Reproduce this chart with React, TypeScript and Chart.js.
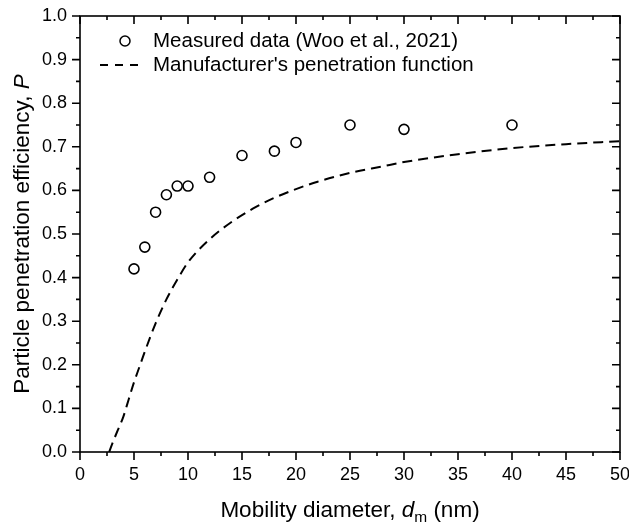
import React, { useEffect, useRef } from "react";
import { Chart, registerables } from "chart.js";

Chart.register(...registerables);

const measuredX = [5, 6, 7, 8, 9, 10, 12, 15, 18, 20, 25, 30, 40];
const measuredP = [0.42, 0.47, 0.55, 0.59, 0.61, 0.61, 0.63, 0.68, 0.69, 0.71, 0.75, 0.74, 0.75];

const curveX = [2.7, 3, 3.5, 4, 4.5, 5, 5.5, 6, 7, 8, 9, 10, 12, 14, 16, 18, 20, 22, 25, 28, 30, 35, 40, 45, 50];
const curveP = [0, 0.02, 0.05, 0.08, 0.12, 0.16, 0.195, 0.23, 0.295, 0.35, 0.395, 0.435, 0.488, 0.527, 0.558, 0.583, 0.603, 0.62, 0.64, 0.655, 0.665, 0.683, 0.697, 0.706, 0.713];

const legendLabels = ["Measured data (Woo et al., 2021)", "Manufacturer's penetration function"];
const FONT = "'Liberation Sans', Arial, sans-serif";

const framePlugin = {
  id: "frameAndText",
  afterDraw(chart: any) {
    const ctx = chart.ctx;
    const { left, right, top, bottom } = chart.chartArea;
    const xs = chart.scales.x;
    const ys = chart.scales.y;
    ctx.save();
    ctx.strokeStyle = "#000";
    ctx.lineWidth = 1.6;
    ctx.strokeRect(left, top, right - left, bottom - top);
    const major = 8, minor = 4;
    ctx.beginPath();
    for (let v = 0; v <= 50.001; v += 2.5) {
      const px = xs.getPixelForValue(v);
      const isMajor = Math.abs(v / 5 - Math.round(v / 5)) < 1e-6;
      const len = isMajor ? major : minor;
      ctx.moveTo(px, bottom);
      ctx.lineTo(px, bottom + len);
      ctx.moveTo(px, top);
      ctx.lineTo(px, top + len);
    }
    for (let i = 0; i <= 20; i++) {
      const v = i * 0.05;
      const py = ys.getPixelForValue(v);
      const len = i % 2 === 0 ? major : minor;
      ctx.moveTo(left, py);
      ctx.lineTo(left - len, py);
      ctx.moveTo(right, py);
      ctx.lineTo(right - len, py);
    }
    ctx.stroke();

    // Legend
    ctx.fillStyle = "#000";
    ctx.font = `20.5px ${FONT}`;
    ctx.textBaseline = "middle";
    ctx.textAlign = "left";
    ctx.lineWidth = 1.5;
    ctx.beginPath();
    ctx.arc(125, 41, 5, 0, Math.PI * 2);
    ctx.stroke();
    ctx.fillText(legendLabels[0], 153, 41);
    ctx.lineWidth = 2;
    ctx.setLineDash([8, 7]);
    ctx.beginPath();
    ctx.moveTo(100, 65);
    ctx.lineTo(140, 65);
    ctx.stroke();
    ctx.setLineDash([]);
    ctx.fillText(legendLabels[1], 153, 65);

    // X title
    const big = `22.5px ${FONT}`;
    const bigI = `italic 22.5px ${FONT}`;
    const small = `15.5px ${FONT}`;
    const parts = [
      { t: "Mobility diameter, ", f: big, dy: 0 },
      { t: "d", f: bigI, dy: 0 },
      { t: "m", f: small, dy: 5 },
      { t: " (nm)", f: big, dy: 0 },
    ];
    let total = 0;
    for (const p of parts) {
      ctx.font = p.f;
      total += ctx.measureText(p.t).width;
    }
    let x = (left + right) / 2 - total / 2;
    ctx.textBaseline = "alphabetic";
    for (const p of parts) {
      ctx.font = p.f;
      ctx.fillText(p.t, x, 517 + p.dy);
      x += ctx.measureText(p.t).width;
    }

    // Y title
    const yparts = [
      { t: "Particle penetration efficiency, ", f: big },
      { t: "P", f: bigI },
    ];
    total = 0;
    for (const p of yparts) {
      ctx.font = p.f;
      total += ctx.measureText(p.t).width;
    }
    ctx.translate(29, (top + bottom) / 2);
    ctx.rotate(-Math.PI / 2);
    let yy = -total / 2;
    for (const p of yparts) {
      ctx.font = p.f;
      ctx.fillText(p.t, yy, 0);
      yy += ctx.measureText(p.t).width;
    }
    ctx.restore();
  },
};

export default function App() {
  const ref = useRef<HTMLCanvasElement>(null);
  useEffect(() => {
    if (!ref.current) return;
    const chart = new Chart(ref.current, {
      type: "scatter",
      data: {
        datasets: [
          {
            label: legendLabels[0],
            data: measuredX.map((x, i) => ({ x, y: measuredP[i] })),
            showLine: false,
            pointStyle: "circle",
            pointRadius: 5,
            pointBorderWidth: 1.6,
            borderColor: "#000",
            backgroundColor: "rgba(0,0,0,0)",
          },
          {
            label: legendLabels[1],
            data: curveX.map((x, i) => ({ x, y: curveP[i] })),
            showLine: true,
            pointRadius: 0,
            borderColor: "#000",
            borderWidth: 2,
            borderDash: [10, 6],
            cubicInterpolationMode: "monotone",
            fill: false,
          },
        ],
      },
      options: {
        animation: false,
        responsive: false,
        layout: { padding: { top: 16, right: 9, left: 0, bottom: 0 } },
        plugins: { legend: { display: false }, tooltip: { enabled: false } },
        scales: {
          x: {
            type: "linear",
            min: 0,
            max: 50,
            grid: { display: false, drawTicks: false },
            border: { display: false },
            ticks: { stepSize: 5, color: "#000", font: { size: 18, family: FONT }, padding: 12, maxRotation: 0 },
            afterFit: (s: any) => {
              s.height = 71;
              s.paddingLeft = 0;
              s.paddingRight = 0;
            },
          },
          y: {
            type: "linear",
            min: 0,
            max: 1,
            grid: { display: false, drawTicks: false },
            border: { display: false },
            ticks: {
              stepSize: 0.1,
              color: "#000",
              font: { size: 18, family: FONT },
              padding: 13,
              callback: (v: any) => Number(v).toFixed(1),
            },
            afterFit: (s: any) => {
              s.width = 80;
              s.paddingTop = 0;
              s.paddingBottom = 0;
            },
          },
        },
      },
      plugins: [framePlugin],
    } as any);
    return () => chart.destroy();
  }, []);
  return (
    <div style={{ position: "fixed", left: 0, top: 0, width: 629, height: 523, background: "#fff" }}>
      <canvas ref={ref} width={629} height={523} style={{ width: 629, height: 523 }} />
    </div>
  );
}
